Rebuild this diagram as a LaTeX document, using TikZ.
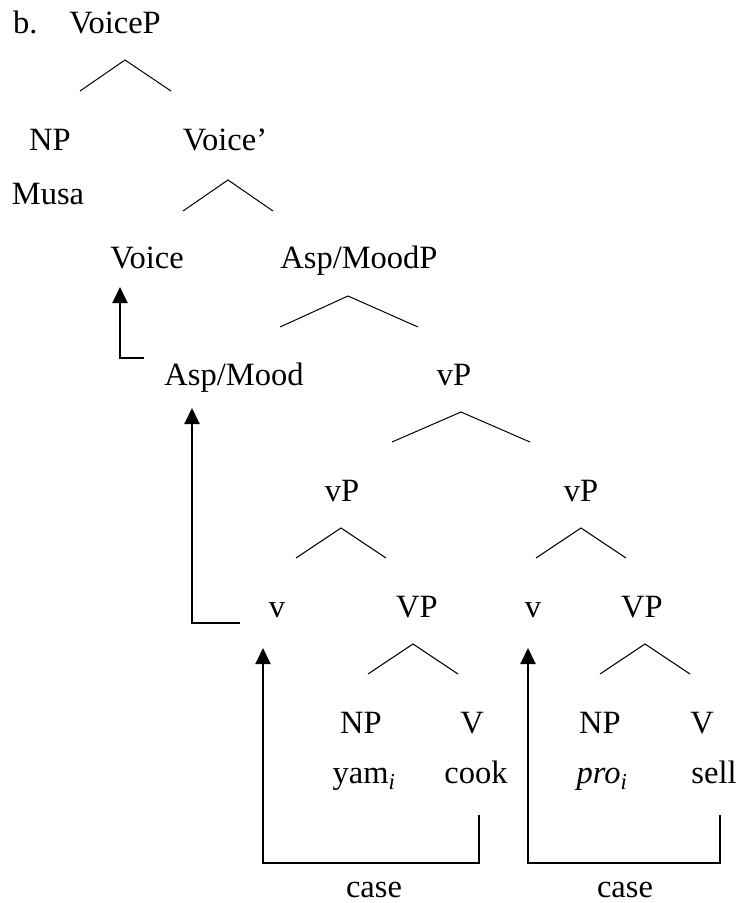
\documentclass[tikz,border=0pt]{standalone}
\usepackage{fontspec}
\setmainfont{Liberation Serif}
\usetikzlibrary{arrows.meta}
\tikzset{
  lbl/.style={anchor=base, inner sep=0pt, outer sep=0pt, font=\fontsize{32.5}{38}\selectfont},
  branch/.style={line width=1pt},
  movearrow/.style={line width=2pt, -{Triangle[length=16pt,width=15pt]}},
}
\newcommand{\tri}[6]{%
  \coordinate (#1a) at (#2,#3);
  \coordinate (#1l) at (#4,#6);
  \coordinate (#1r) at (#5,#6);
  \draw[branch] (#1l) -- (#1a) -- (#1r);}
\begin{document}
\begin{tikzpicture}[x=1pt,y=-1pt]
\useasboundingbox (0,0) rectangle (740,903);
% labels
\node[lbl, anchor=base west] (ex) at (13,33) {b.};
\node[lbl] (voicep) at (115,33) {VoiceP};
\node[lbl] (np1) at (50,150) {NP};
\node[lbl] (voicebar) at (225,150) {Voice’};
\node[lbl] (musa) at (48,204) {Musa};
\node[lbl] (voice) at (147,268) {Voice};
\node[lbl] (aspmoodp) at (359,268) {Asp/MoodP};
\node[lbl] (aspmood) at (234,385) {Asp/Mood};
\node[lbl] (vp0) at (454,385) {vP};
\node[lbl] (vp1) at (342,501) {vP};
\node[lbl] (vp2) at (581,501) {vP};
\node[lbl] (v1) at (277,617) {v};
\node[lbl] (VP1) at (417,617) {VP};
\node[lbl] (v2) at (533,617) {v};
\node[lbl] (VP2) at (642,617) {VP};
\node[lbl] (np2) at (361,733) {NP};
\node[lbl] (V1) at (472,733) {V};
\node[lbl] (np3) at (600,733) {NP};
\node[lbl] (V2) at (702,733) {V};
\node[lbl] (yam) at (364,783) {yam\textsubscript{\textit{i}}};
\node[lbl] (cook) at (476,783) {cook};
\node[lbl] (pro) at (602,783) {\textit{pro}\textsubscript{\textit{i}}};
\node[lbl] (sell) at (714,783) {sell};
\node[lbl] (case1) at (374,897) {case};
\node[lbl] (case2) at (625,897) {case};
% branches
\tri{t1}{125}{60}{80}{171}{91}
\tri{t2}{228}{180}{183}{273}{211}
\tri{t3}{348}{296}{280}{418}{327}
\tri{t4}{461}{412}{392}{530}{442}
\tri{t5}{341}{528}{296}{386}{558}
\tri{t6}{581}{528}{536}{626}{558}
\tri{t7}{413}{644}{368}{458}{674}
\tri{t8}{645}{644}{600}{690}{674}
% movement arrows
\coordinate (a1s) at (144,358);
\coordinate (a1t) at (120,287);
\draw[movearrow] (a1s) -| (a1t);
\coordinate (a2s) at (240,623);
\coordinate (a2t) at (192,408);
\draw[movearrow] (a2s) -| (a2t);
\coordinate (a3s) at (479,815);
\coordinate (a3c) at (479,863);
\coordinate (a3t) at (263,648);
\draw[movearrow] (a3s) -- (a3c) -| (a3t);
\coordinate (a4s) at (720,815);
\coordinate (a4c) at (720,863);
\coordinate (a4t) at (528,648);
\draw[movearrow] (a4s) -- (a4c) -| (a4t);
\end{tikzpicture}
\end{document}
